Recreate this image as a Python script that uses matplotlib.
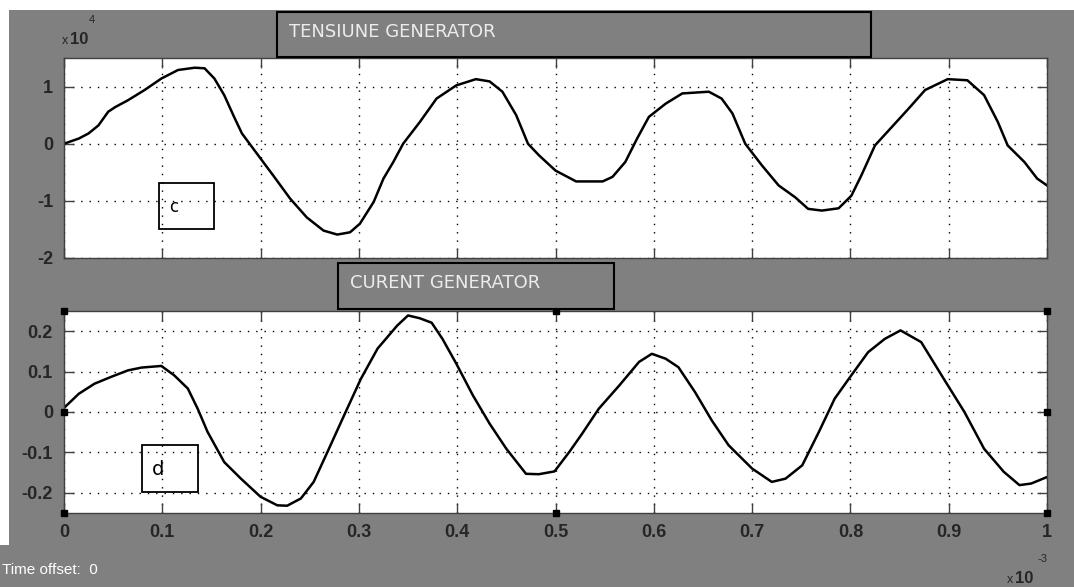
import matplotlib
matplotlib.use("Agg")
import matplotlib.pyplot as plt
from matplotlib.patches import Rectangle

# time in ms (axis scale shown as x 10^-3), voltage in units of 1e4
t_volt = [0.0, 0.015, 0.025, 0.035, 0.045, 0.052, 0.065, 0.082, 0.099, 0.116,
          0.133, 0.143, 0.153, 0.163, 0.173, 0.181, 0.2, 0.213, 0.23, 0.247,
          0.264, 0.278, 0.291, 0.301, 0.315, 0.325, 0.335, 0.345, 0.362, 0.379,
          0.399, 0.419, 0.433, 0.446, 0.46, 0.472, 0.483, 0.5, 0.521, 0.548,
          0.558, 0.571, 0.583, 0.595, 0.612, 0.629, 0.656, 0.669, 0.68, 0.693,
          0.71, 0.727, 0.744, 0.757, 0.771, 0.788, 0.801, 0.811, 0.825, 0.842,
          0.859, 0.876, 0.899, 0.919, 0.936, 0.95, 0.96, 0.977, 0.99, 1.0]
volt = [0.0, 0.09, 0.18, 0.32, 0.56, 0.64, 0.76, 0.94, 1.14, 1.29,
        1.33, 1.32, 1.14, 0.85, 0.47, 0.18, -0.26, -0.56, -0.96, -1.29,
        -1.52, -1.59, -1.55, -1.4, -1.02, -0.61, -0.32, 0.0, 0.38, 0.79,
        1.02, 1.13, 1.09, 0.91, 0.5, 0.0, -0.2, -0.47, -0.66, -0.66,
        -0.58, -0.32, 0.09, 0.47, 0.7, 0.88, 0.91, 0.79, 0.53, 0.0,
        -0.38, -0.73, -0.94, -1.14, -1.17, -1.13, -0.91, -0.56, -0.03, 0.29,
        0.61, 0.94, 1.13, 1.11, 0.85, 0.38, -0.03, -0.32, -0.61, -0.73]

# generator current
t_curr = [0.0, 0.015, 0.031, 0.048, 0.065, 0.079, 0.099, 0.112, 0.126, 0.136,
          0.146, 0.163, 0.18, 0.2, 0.217, 0.227, 0.241, 0.254, 0.268, 0.285,
          0.302, 0.319, 0.339, 0.35, 0.362, 0.374, 0.385, 0.399, 0.416, 0.433,
          0.45, 0.47, 0.483, 0.499, 0.514, 0.527, 0.544, 0.565, 0.585, 0.598,
          0.612, 0.625, 0.642, 0.659, 0.676, 0.683, 0.7, 0.72, 0.734, 0.751,
          0.768, 0.784, 0.801, 0.818, 0.835, 0.851, 0.872, 0.895, 0.916, 0.936,
          0.956, 0.972, 0.984, 1.0]
curr = [0.01, 0.045, 0.07, 0.087, 0.103, 0.11, 0.114, 0.091, 0.058, 0.008,
        -0.049, -0.124, -0.165, -0.21, -0.231, -0.232, -0.214, -0.173, -0.099, -0.008,
        0.082, 0.157, 0.214, 0.239, 0.232, 0.221, 0.181, 0.12, 0.041, -0.029,
        -0.091, -0.153, -0.154, -0.147, -0.099, -0.054, 0.008, 0.066, 0.124, 0.144,
        0.132, 0.111, 0.049, -0.021, -0.082, -0.099, -0.14, -0.173, -0.165, -0.132,
        -0.049, 0.033, 0.091, 0.148, 0.181, 0.202, 0.173, 0.082, 0.0, -0.091,
        -0.148, -0.181, -0.177, -0.161]

x_ticks = [0, 0.1, 0.2, 0.3, 0.4, 0.5, 0.6, 0.7, 0.8, 0.9, 1]
x_labels = ["0", "0.1", "0.2", "0.3", "0.4", "0.5", "0.6", "0.7", "0.8", "0.9", "1"]
volt_ticks = [-2, -1, 0, 1]
volt_labels = ["-2", "-1", "0", "1"]
curr_ticks = [-0.2, -0.1, 0, 0.1, 0.2]
curr_labels = ["-0.2", "-0.1", "0", "0.1", "0.2"]

GRAY = "#808080"
W, H = 1074, 587
NARROW = ["Liberation Sans", "DejaVu Sans"]


def fx(px):
    return px / W


def fy(py):
    return 1 - py / H


fig = plt.figure(figsize=(W / 100, H / 100), dpi=100, facecolor="white")
fig.patches.append(Rectangle((fx(9), 0), 1 - fx(9), fy(10), transform=fig.transFigure,
                             facecolor=GRAY, edgecolor="none", zorder=-10))
fig.patches.append(Rectangle((0, 0), fx(10), fy(545), transform=fig.transFigure,
                             facecolor=GRAY, edgecolor="none", zorder=-10))

ax1 = fig.add_axes([fx(64), fy(258), 983 / W, 200 / H])
ax2 = fig.add_axes([fx(64), fy(513), 983 / W, 202 / H])


def style(ax, yticks, ylabels, ylim):
    ax.set_xlim(0, 1)
    ax.set_ylim(*ylim)
    ax.set_xticks(x_ticks)
    ax.set_yticks(yticks)
    ax.set_yticklabels(ylabels)
    ax.grid(True, color="black", linestyle=(0, (1, 5)), linewidth=1)
    ax.tick_params(direction="in", length=7, width=1, top=True, right=True,
                   color="#404040", labelcolor="#262626", labelsize=13, pad=8)
    for lbl in ax.get_xticklabels() + ax.get_yticklabels():
        lbl.set_family(NARROW)
        lbl.set_fontweight("bold")
    for s in ax.spines.values():
        s.set_color("#404040")
        s.set_linewidth(1)


ax1.plot(t_volt, volt, color="black", lw=1.8)
style(ax1, volt_ticks, volt_labels, (-2, 1.5))
ax1.set_xticklabels([])

ax2.plot(t_curr, curr, color="black", lw=1.8)
style(ax2, curr_ticks, curr_labels, (-0.25, 0.25))
ax2.set_xticklabels(x_labels)
for lbl in ax2.get_xticklabels():
    lbl.set_family(NARROW)
    lbl.set_fontweight("bold")

# selection handles on the lower axes
hx = [0, 0.5, 1, 0, 1, 0, 0.5, 1]
hy = [1, 1, 1, 0.5, 0.5, 0, 0, 0]
ax2.plot(hx, hy, transform=ax2.transAxes, ls="none", marker="s", ms=4,
         color="black", clip_on=False, zorder=5)

# title boxes
for (x0, y0, x1, y1, txt) in [(277, 12, 871, 57, "TENSIUNE GENERATOR"),
                              (338, 263, 614, 309, "CURENT GENERATOR")]:
    fig.patches.append(Rectangle((fx(x0), fy(y1)), (x1 - x0) / W, (y1 - y0) / H,
                                 transform=fig.transFigure, facecolor=GRAY,
                                 edgecolor="black", lw=1.5, zorder=3))
    fig.text(fx(x0 + 12), fy(y0 + 20), txt, color="#ececec", fontsize=13,
             family="DejaVu Sans", va="center", ha="left", zorder=4)

# c / d label boxes
for (x0, y0, x1, y1, txt, fs) in [(159, 183, 214, 229, "c", 12),
                                  (142, 445, 198, 492, "d", 14)]:
    fig.patches.append(Rectangle((fx(x0), fy(y1)), (x1 - x0) / W, (y1 - y0) / H,
                                 transform=fig.transFigure, fill=False,
                                 edgecolor="black", lw=1.3, zorder=3))
    fig.text(fx(x0 + 10), fy((y0 + y1) / 2 + 1), txt, color="black", fontsize=fs,
             family="DejaVu Sans", va="center", ha="left", zorder=4)

# axis multipliers
fig.text(fx(62), fy(44), "x", fontsize=9, family=NARROW, color="#262626", va="baseline")
fig.text(fx(70), fy(44), "10", fontsize=12, family=NARROW, fontweight="bold",
         color="#262626", va="baseline")
fig.text(fx(89), fy(23), "4", fontsize=8, family=NARROW, color="#262626", va="baseline")
fig.text(fx(1007), fy(583), "x", fontsize=9, family=NARROW, color="#262626", va="baseline")
fig.text(fx(1015), fy(583), "10", fontsize=12, family=NARROW, fontweight="bold",
         color="#262626", va="baseline")
fig.text(fx(1038), fy(562), "-3", fontsize=8, family=NARROW, color="#262626", va="baseline")

fig.text(fx(2), fy(570), "Time offset:  0", fontsize=11, family=NARROW,
         color="white", va="center", ha="left")

fig.savefig("out.png", dpi=100, facecolor=fig.get_facecolor())
